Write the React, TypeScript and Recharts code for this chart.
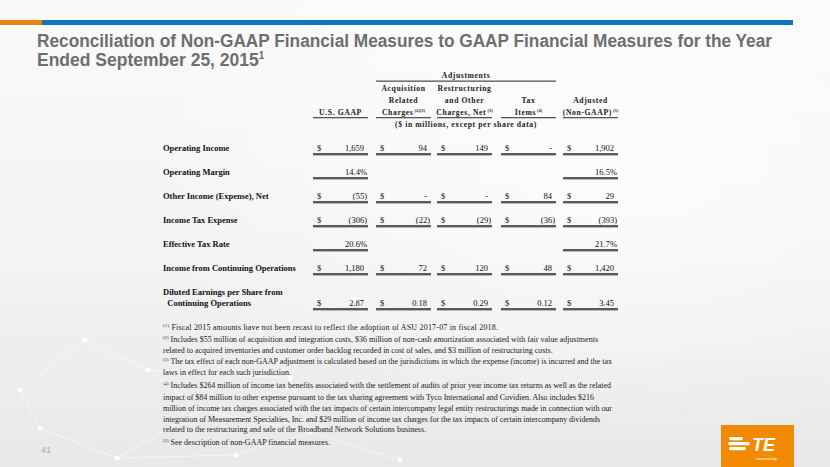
import React from "react";
import { ComposedChart, Customized } from "recharts";

// ---------- data ----------
const titleLines = [
  "Reconciliation of Non-GAAP Financial Measures to GAAP Financial Measures for the Year",
  "Ended September 25, 2015",
];
const rowLabels = [
  ["Operating Income"],
  ["Operating Margin"],
  ["Other Income (Expense), Net"],
  ["Income Tax Expense"],
  ["Effective Tax Rate"],
  ["Income from Continuing Operations"],
  ["Diluted Earnings per Share from", "  Continuing Operations"],
];
const usGaap = ["1,659", "14.4%", "(55)", "(306)", "20.6%", "1,180", "2.87"];
const acquisition = ["94", "", "-", "(22)", "", "72", "0.18"];
const restructuring = ["149", "", "-", "(29)", "", "120", "0.29"];
const taxItems = ["-", "", "84", "(36)", "", "48", "0.12"];
const adjusted = ["1,902", "16.5%", "29", "(393)", "21.7%", "1,420", "3.45"];

const columnHeaders = [
  { lines: ["", "", "U.S. GAAP"], sup: "" },
  { lines: ["Acquisition", "Related", "Charges"], sup: "(2)(3)" },
  { lines: ["Restructuring", "and Other", "Charges, Net"], sup: "(3)" },
  { lines: ["", "Tax", "Items"], sup: "(4)" },
  { lines: ["", "Adjusted", "(Non-GAAP)"], sup: "(5)" },
];
const groupHeader = "Adjustments";
const unitsNote = "($ in millions, except per share data)";

const footnotes = [
  { sup: "(1)", text: " Fiscal 2015 amounts have not been recast to reflect the adoption of ASU 2017-07 in fiscal 2018." },
  { sup: "(2)", text: " Includes $55 million of acquisition and integration costs, $36 million of non-cash amortization associated with fair value adjustments" },
  { sup: "", text: "related to acquired inventories and customer order backlog recorded in cost of sales, and $3 million of restructuring costs." },
  { sup: "(3)", text: " The tax effect of each non-GAAP adjustment is calculated based on the jurisdictions in which the expense (income) is incurred and the tax" },
  { sup: "", text: "laws in effect for each such jurisdiction." },
  { sup: "(4)", text: " Includes $264 million of income tax benefits associated with the settlement of audits of prior year income tax returns as well as the related" },
  { sup: "", text: "impact of $84 million to other expense pursuant to the tax sharing agreement with Tyco International and Covidien. Also includes $216" },
  { sup: "", text: "million of income tax charges associated with the tax impacts of certain intercompany legal entity restructurings made in connection with our" },
  { sup: "", text: "integration of Measurement Specialties, Inc. and $29 million of income tax charges for the tax impacts of certain intercompany dividends" },
  { sup: "", text: "related to the restructuring and sale of the Broadband Network Solutions business." },
  { sup: "(5)", text: " See description of non-GAAP financial measures." },
];
const pageNumber = "41";

const columns = [usGaap, acquisition, restructuring, taxItems, adjusted];
const tableRows = rowLabels.map((l, i) => ({
  label: l.join(" "),
  usGaap: usGaap[i],
  acquisition: acquisition[i],
  restructuring: restructuring[i],
  taxItems: taxItems[i],
  adjusted: adjusted[i],
}));

// ---------- layout ----------
const COL_X = [313, 376, 437, 501, 563];
const COL_W = 55;
const ROW_Y = [148, 172, 196, 220, 244, 268, 303];
const FN_Y = [327, 339, 350, 361, 372, 385, 397, 408, 419, 429, 442];
const FN_END = [498, 598, 0, 612, 0, 611, 594, 612, 600, 426, 330];
const FN_X = 163;
const SERIF = "'Liberation Serif', 'Times New Roman', serif";
const SANS = "'Liberation Sans', Arial, sans-serif";

// decorative network (background texture)
const netDots = [
  [40, 428], [117, 458], [148, 370], [236, 455], [290, 378], [310, 432], [355, 300],
  [85, 340], [200, 410], [400, 460], [260, 330], [20, 390],
];
const netLinks = [
  [0, 1], [1, 3], [3, 5], [5, 4], [4, 2], [2, 7], [7, 11], [11, 0], [8, 5], [8, 2], [9, 5], [10, 6], [10, 4], [8, 1],
];

function Slide() {
  return (
    <g>
      <defs>
        <linearGradient id="bg" x1="0" y1="0" x2="0" y2="1">
          <stop offset="0" stopColor="#fafafa" />
          <stop offset="0.55" stopColor="#f3f3f3" />
          <stop offset="1" stopColor="#e8e8e8" />
        </linearGradient>
        <radialGradient id="glow" cx="0.75" cy="0.35" r="0.6">
          <stop offset="0" stopColor="#ffffff" stopOpacity={0.7} />
          <stop offset="1" stopColor="#ffffff" stopOpacity={0} />
        </radialGradient>
      </defs>
      <rect x={0} y={0} width={830} height={467} fill="url(#bg)" />
      <rect x={0} y={0} width={830} height={467} fill="url(#glow)" />
      {netLinks.map(([a, b], i) => (
        <line key={i} x1={netDots[a][0]} y1={netDots[a][1]} x2={netDots[b][0]} y2={netDots[b][1]} stroke="#ffffff" strokeOpacity={0.7} strokeWidth={0.8} />
      ))}
      {netDots.map(([x, y], i) => (
        <circle key={i} cx={x} cy={y} r={2.5} fill="#ffffff" fillOpacity={0.9} />
      ))}

      {/* top bars */}
      <rect x={0} y={20} width={42} height={5} fill="#E8850E" />
      <rect x={42} y={20} width={751} height={5} fill="#1373BD" />
      {/* title */}
      <text x={37} y={47} fontFamily={SANS} fontWeight="bold" fontSize={17.5} fill="#6e6e6e" textLength={735} lengthAdjust="spacingAndGlyphs">
        {titleLines[0]}
      </text>
      <text x={37} y={66} fontFamily={SANS} fontWeight="bold" fontSize={17.5} fill="#6e6e6e">
        {titleLines[1]}
        <tspan fontSize={10} dy={-7}>1</tspan>
      </text>

      {/* group header */}
      <text x={466} y={78} textAnchor="middle" fontFamily={SERIF} fontWeight="bold" fontSize={7.7} letterSpacing={0.6} fill="#222">
        {groupHeader}
      </text>
      <rect x={376} y={80.5} width={180} height={1.3} fill="#555" />
      {columnHeaders.map((h, ci) => (
        <g key={ci}>
          {h.lines.map((ln, li) =>
            ln ? (
              <text key={li} x={COL_X[ci] + COL_W / 2} y={91 + li * 11.8} textAnchor="middle" fontFamily={SERIF} fontWeight="bold" fontSize={7.7} letterSpacing={0.6} fill="#222">
                {ln}
                {li === 2 && h.sup ? (
                  <tspan fontSize={4.5} dy={-3} letterSpacing={0}>{" " + h.sup}</tspan>
                ) : null}
              </text>
            ) : null
          )}
          <rect x={COL_X[ci]} y={117} width={COL_W} height={1.3} fill="#555" />
        </g>
      ))}
      <text x={466} y={126.5} textAnchor="middle" fontFamily={SERIF} fontWeight="bold" fontSize={7.7} letterSpacing={0.6} fill="#222">
        {unitsNote}
      </text>

      {/* rows */}
      {rowLabels.map((lbl, ri) => (
        <g key={ri}>
          {lbl.map((ln, k) => (
            <text key={k} x={163} y={ROW_Y[ri] + 3 - (lbl.length - 1 - k) * 11} fontFamily={SERIF} fontWeight="bold" fontSize={8.5} fill="#111" style={{ whiteSpace: "pre" }}>
              {ln}
            </text>
          ))}
          {columns.map((col, ci) => {
            const v = col[ri];
            if (!v) return null;
            const pct = v.endsWith("%");
            return (
              <g key={ci}>
                {!pct && (
                  <text x={COL_X[ci] + 4} y={ROW_Y[ri] + 3} fontFamily={SERIF} fontSize={8.5} fill="#111">$</text>
                )}
                <text x={COL_X[ci] + (pct ? 54 : v.endsWith(")") ? 54 : 51)} y={ROW_Y[ri] + 3} textAnchor="end" fontFamily={SERIF} fontSize={8.5} fill="#111">
                  {v}
                </text>
                <rect x={COL_X[ci]} y={ROW_Y[ri] + 5} width={COL_W} height={2.4} fill="#5a5a5a" />
              </g>
            );
          })}
        </g>
      ))}

      {/* footnotes */}
      {footnotes.map((f, i) => (
        <text
          key={i}
          x={FN_X}
          y={FN_Y[i] + 3}
          fontFamily={SERIF}
          fontSize={8}
          fill="#222"
          style={{ whiteSpace: "pre" }}
          {...(FN_END[i] ? { textLength: FN_END[i] - FN_X, lengthAdjust: "spacing" } : {})}
        >
          {f.sup ? <tspan fontSize={4.8} dy={-3}>{f.sup}</tspan> : null}
          {f.sup ? <tspan dy={3}>{f.text}</tspan> : f.text}
        </text>
      ))}

      {/* page number */}
      <text x={41} y={453} fontFamily={SANS} fontSize={9} fill="#a8a8a8">{pageNumber}</text>

      {/* logo */}
      <rect x={721} y={425} width={73} height={42} fill="#F28A00" />
      <rect x={729} y={437} width={14} height={3.2} rx={1.6} fill="#fff" />
      <rect x={728} y={442} width={22} height={3.2} rx={1.6} fill="#fff" />
      <rect x={729} y={447} width={17} height={3.2} rx={1.6} fill="#fff" />
      <text x={752} y={451} fontFamily={SANS} fontWeight="bold" fontStyle="italic" fontSize={18} fill="#fff">TE</text>
      <text x={756} y={460} fontFamily={SANS} fontStyle="italic" fontSize={4} fill="#fff">connectivity</text>
    </g>
  );
}

export default function App() {
  return (
    <div style={{ position: "absolute", left: 0, top: 0, width: 830, height: 467 }}>
      <ComposedChart width={830} height={467} data={tableRows} margin={{ top: 0, right: 0, bottom: 0, left: 0 }}>
        <Customized component={Slide} />
      </ComposedChart>
    </div>
  );
}
